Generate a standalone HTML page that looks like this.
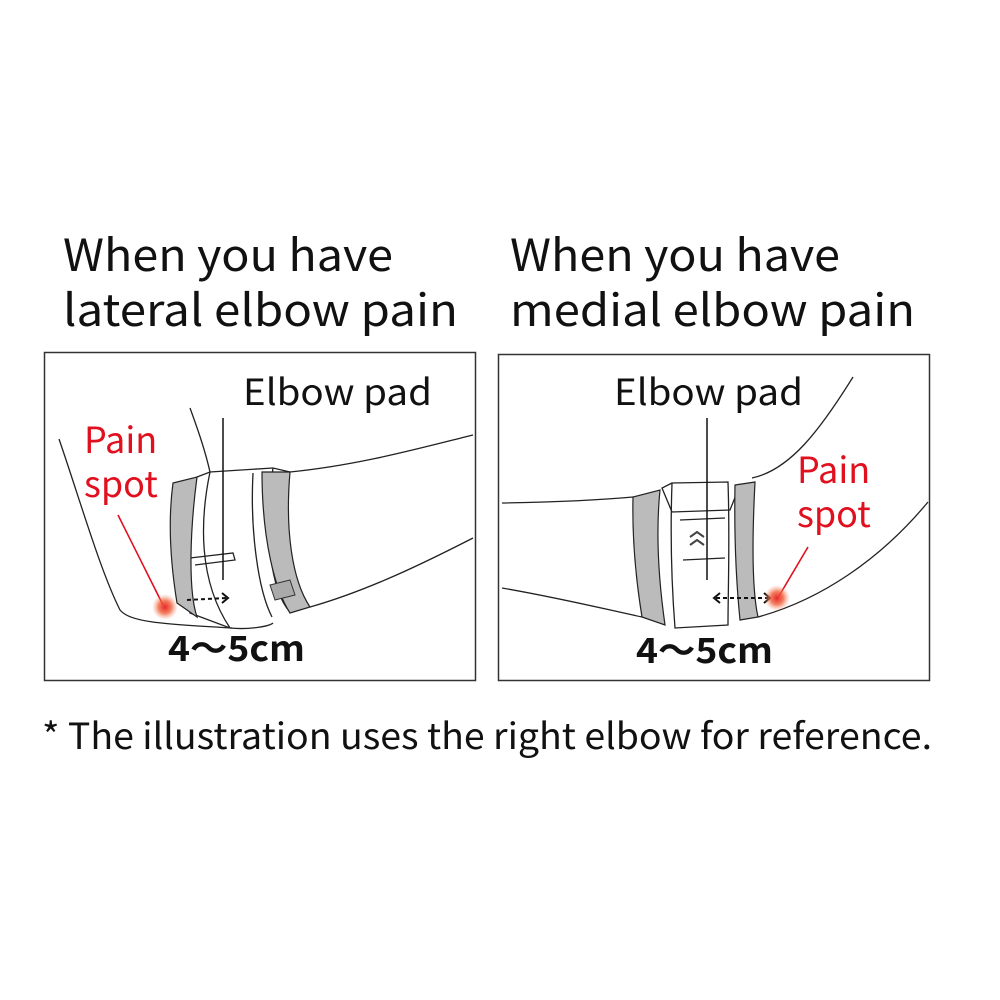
<!DOCTYPE html>
<html><head><meta charset="utf-8"><style>
html,body{margin:0;padding:0;background:#fff;}
svg{display:block}
text{font-family:"Noto Sans CJK JP","Liberation Sans",sans-serif;}
</style></head><body>
<svg width="1000" height="1000" viewBox="0 0 1000 1000" xmlns="http://www.w3.org/2000/svg">
<defs>
<radialGradient id="rg"><stop offset="0" stop-color="#e8262a"/><stop offset="0.5" stop-color="#f0603a" stop-opacity="0.8"/><stop offset="1" stop-color="#f6a080" stop-opacity="0"/></radialGradient>
</defs>
<g fill="#111" font-size="44">
<text x="63" y="271" textLength="330" lengthAdjust="spacingAndGlyphs">When you have</text>
<text x="63" y="326" textLength="395" lengthAdjust="spacingAndGlyphs">lateral elbow pain</text>
<text x="510" y="271" textLength="330" lengthAdjust="spacingAndGlyphs">When you have</text>
<text x="510" y="326" textLength="405" lengthAdjust="spacingAndGlyphs">medial elbow pain</text>
</g>
<text x="42" y="749" font-size="36" fill="#111" textLength="890" lengthAdjust="spacingAndGlyphs">* The illustration uses the right elbow for reference.</text>

<!-- left panel -->
<rect x="44.5" y="352.5" width="431" height="328" fill="none" stroke="#333" stroke-width="1.5"/>
<g fill="none" stroke="#222" stroke-width="1.3">
<path d="M59 439 C80 500 100 570 120 610 C130 622 160 624 232 628"/>
<path d="M190 408 C198 430 205 450 210 472"/>
<path d="M290 472 C360 465 420 448 473 435"/>
<path d="M310 607 C370 590 430 560 473 538"/>
<path d="M197 477 C185 510 180 570 190 613 L230 628 C250 630 270 626 273 623"/>
<path d="M197 477 L210 472 L273 468 L290 472"/>
<path d="M210 472 C200 520 198 580 230 628"/>
<path d="M253 473 C250 530 258 590 272 617"/>
<path d="M273 468 C264 530 270 590 290 612"/>
<path d="M190 558 L233 553 L235 560 L195 565"/>
</g>
<path d="M173 483 L197 477 C190 530 188 590 197 617 L177 603 C170 560 168 520 173 483Z" fill="#bbb" stroke="#222" stroke-width="1.2"/>
<path d="M262 472 L290 472 C285 530 292 580 310 607 L290 613 C275 590 262 540 262 472Z" fill="#bbb" stroke="#222" stroke-width="1.2"/>
<path d="M270 585 L290 580 L295 595 L275 600Z" fill="#aaa" stroke="#333" stroke-width="1"/>
<line x1="223" y1="418" x2="223" y2="580" stroke="#111" stroke-width="1.5"/>
<line x1="187" y1="600" x2="226" y2="598" stroke="#111" stroke-width="2" stroke-dasharray="4 3"/>
<path d="M222 593 L228 598 L222 603" fill="none" stroke="#111" stroke-width="2"/>
<line x1="118" y1="515" x2="163" y2="605" stroke="#e0101e" stroke-width="1.6"/>
<circle cx="165" cy="607" r="13" fill="url(#rg)"/>
<text x="243" y="405" font-size="36" fill="#111" textLength="189" lengthAdjust="spacingAndGlyphs">Elbow pad</text>
<text x="84" y="453" font-size="36" fill="#e0101e">Pain</text>
<text x="84" y="497" font-size="36" fill="#e0101e">spot</text>
<text x="168" y="661" font-size="35" font-weight="bold" fill="#111" textLength="137" lengthAdjust="spacingAndGlyphs">4～5cm</text>

<!-- right panel -->
<rect x="498.5" y="354.5" width="431" height="326" fill="none" stroke="#333" stroke-width="1.5"/>
<g fill="none" stroke="#222" stroke-width="1.3">
<path d="M502 503 C560 502 600 500 633 497"/>
<path d="M752 478 C790 470 820 430 853 377"/>
<path d="M502 588 C560 598 600 608 642 617"/>
<path d="M758 617 C820 600 880 560 928 502"/>
<path d="M672 483 L728 482 C730 540 728 590 728 625 L675 628 C672 590 670 540 672 483Z"/>
<path d="M672 483 L662 488 L672 512 L730 510 L740 485"/>
<path d="M680 520 L725 518 M683 560 L725 558"/>
</g>
<path d="M633 497 L660 490 C655 540 660 590 665 625 L642 617 C636 580 632 540 633 497Z" fill="#bbb" stroke="#222" stroke-width="1.2"/>
<path d="M735 485 L755 482 C752 540 752 590 758 617 L740 620 C736 580 734 540 735 485Z" fill="#bbb" stroke="#222" stroke-width="1.2"/>
<path d="M690 537 L697 532 L704 537 M690 545 L697 540 L704 545" fill="none" stroke="#444" stroke-width="2"/>
<line x1="707" y1="418" x2="707" y2="580" stroke="#111" stroke-width="1.5"/>
<line x1="716" y1="598" x2="768" y2="598" stroke="#111" stroke-width="2" stroke-dasharray="4 3"/>
<path d="M720 593 L714 598 L720 603 M764 593 L770 598 L764 603" fill="none" stroke="#111" stroke-width="2"/>
<line x1="808" y1="547" x2="779" y2="596" stroke="#e0101e" stroke-width="1.6"/>
<circle cx="777" cy="598" r="13" fill="url(#rg)"/>
<text x="614" y="405" font-size="36" fill="#111" textLength="189" lengthAdjust="spacingAndGlyphs">Elbow pad</text>
<text x="797" y="483" font-size="36" fill="#e0101e">Pain</text>
<text x="797" y="527" font-size="36" fill="#e0101e">spot</text>
<text x="636" y="663" font-size="35" font-weight="bold" fill="#111" textLength="137" lengthAdjust="spacingAndGlyphs">4～5cm</text>
</svg>
</body></html>
